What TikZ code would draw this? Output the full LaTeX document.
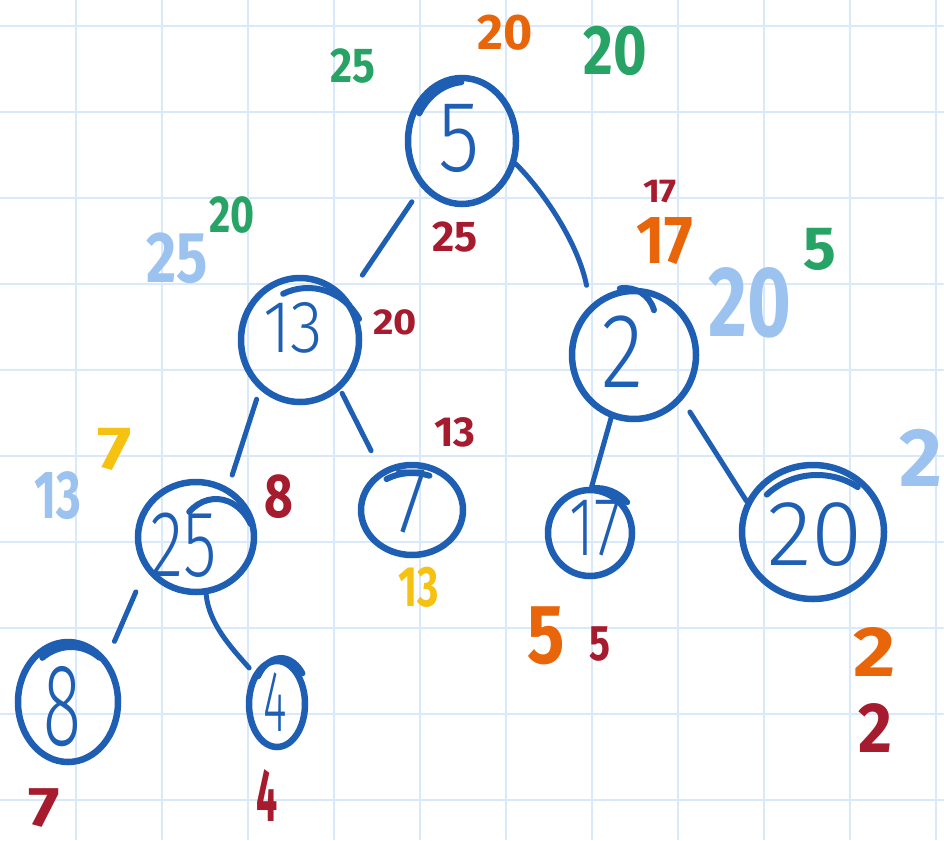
\documentclass[tikz,border=0pt]{standalone}
\usepackage{fontspec}
\usepackage{graphicx}
\setmainfont{Fira Sans}
\newfontfamily\thinfont{Fira Sans Light}
\usetikzlibrary{shapes.geometric}
\definecolor{pen}{HTML}{1E5FB4}
\definecolor{sky}{HTML}{9CC3F0}
\definecolor{mgreen}{HTML}{27A366}
\definecolor{morange}{HTML}{E8650A}
\definecolor{mred}{HTML}{A61C2E}
\definecolor{myellow}{HTML}{F5C211}
\definecolor{gridc}{HTML}{D8E9FB}
\newcommand\hw[3]{\scalebox{#1}[1]{\fontsize{#2pt}{#2pt}\selectfont #3}}
\begin{document}
\begin{tikzpicture}[x=1pt,y=-1pt,
  gridline/.style={draw=gridc,line width=1.6pt},
  ring/.style={ellipse,draw=pen,line width=6.5pt,inner sep=0pt},
  ringx/.style={draw=pen,line width=6pt,line cap=round},
  edge/.style={draw=pen,line width=5pt,line cap=round},
  lab/.style={inner sep=0pt,text=pen,font=\thinfont},
  ann/.style={inner sep=0pt,font=\bfseries}]
\fill[white] (0,0) rectangle (944,840);
\useasboundingbox (0,0) rectangle (944,840);
\foreach \x in {76,162,...,936} \draw[gridline] (\x,0) -- (\x,840);
\foreach \y in {26,112,...,800} \draw[gridline] (0,\y) -- (944,\y);

% rings
\node[ring,minimum width=108pt,minimum height=126pt] (c5) at (462,141) {};
\node[ring,minimum width=118pt,minimum height=124pt] (c13) at (300,340) {};
\node[ring,minimum width=124pt,minimum height=128pt] (c2) at (634,355) {};
\node[ring,minimum width=116pt,minimum height=110pt] (c25) at (196,537) {};
\node[ring,minimum width=102pt,minimum height=90pt] (c7) at (412,510) {};
\node[ring,minimum width=84pt,minimum height=86pt] (c17) at (590,533) {};
\node[ring,minimum width=142pt,minimum height=134pt] (c20) at (813,532) {};
\node[ring,minimum width=100pt,minimum height=120pt] (c8) at (68,702) {};
\node[ring,minimum width=56pt,minimum height=86pt] (c4) at (277,704) {};

% overlapping strokes where each ring was closed by hand
\draw[ringx] ([xshift=4pt,yshift=-4pt]c5.center) ++(210:54 and 63) arc[start angle=210,end angle=265,x radius=54,y radius=63];
\draw[ringx] ([xshift=8pt,yshift=-10pt]c13.center) ++(245:59 and 62) arc[start angle=245,end angle=330,x radius=59,y radius=62];
\draw[ringx] ([xshift=-9pt,yshift=37pt]c2.center) ++(260:30) arc[start angle=260,end angle=345,radius=30];
\draw[ringx] ([xshift=20pt,yshift=-12pt]c25.center) ++(228:40 and 50) arc[start angle=228,end angle=330,x radius=40,y radius=50];
\draw[ringx] ([xshift=0pt,yshift=-8pt]c7.center) ++(240:51 and 45) arc[start angle=240,end angle=290,x radius=51,y radius=45];
\draw[ringx] ([xshift=6pt,yshift=2pt]c17.center) ++(265:42 and 43) arc[start angle=265,end angle=318,x radius=42,y radius=43];
\draw[ringx] ([xshift=4pt,yshift=-10pt]c20.center) ++(225:71 and 67) arc[start angle=225,end angle=305,x radius=71,y radius=67];
\draw[ringx] ([xshift=3pt,yshift=-5pt]c8.center) ++(235:50 and 60) arc[start angle=235,end angle=305,x radius=50,y radius=60];
\draw[ringx] ([xshift=4pt,yshift=3pt]c4.center) ++(215:28 and 43) arc[start angle=215,end angle=320,x radius=28,y radius=43];

% values in the rings
\node[lab] (t5) at (459,138) {\hw{0.84}{101}{5}};
\node[lab] (t13) at (293,328) {\hw{0.9}{74}{13}};
\node[lab] (t2) at (623,352) {\hw{0.83}{106}{2}};
\node[lab] (t25) at (184,545) {\hw{0.73}{94}{25}};
\node[lab] (t7) at (411,502) {\hw{0.8}{94}{7}};
\node[lab] (t17) at (595,528) {\hw{0.73}{83}{17}};
\node[lab] (t20) at (815,535) {\hw{1}{93}{20}};
\node[lab] (t8) at (62,707) {\hw{0.6}{117}{8}};
\node[lab] (t4) at (275,702) {\hw{0.52}{87}{4}};

% edges
\draw[edge,shorten <=17pt,shorten >=27pt] (c5.229) -- (c13.42);
\draw[edge,shorten >=20pt] (c5.337) .. controls +(30,30) and +(-12,-60) .. (c2.131);
\draw[edge,shorten <=10pt,shorten >=13pt] (c13.231) -- (c25.57);
\draw[edge,shorten <=4pt,shorten >=22pt] (c13.309) -- (c7.128);
\draw[edge] (c2.250) -- (c17.88);
\draw[edge,shorten <=14pt] (c2.317) -- (c20.155);
\draw[edge,shorten <=24pt,shorten >=19pt] (c25.213) -- (c8.48);
\draw[edge,shorten >=7pt] (c25.280) .. controls +(3,30) and +(-22,-25) .. (c4.127);

% annotations
\node[ann,text=mgreen] (a1) at (353,66) {\hw{0.87}{49}{25}};
\node[ann,text=morange] (a2) at (505,33) {\hw{1}{50}{20}};
\node[ann,text=mgreen] (a3) at (615,51) {\hw{0.82}{70}{20}};
\node[ann,text=mgreen] (a4) at (232,215) {\hw{0.79}{52}{20}};
\node[ann,text=sky] (a5) at (177,258) {\hw{0.81}{72}{25}};
\node[ann,text=mred] (a6) at (455,237) {\hw{1}{43}{25}};
\node[ann,text=mred] (a7) at (395,322) {\hw{1.1}{36}{20}};
\node[ann,text=mred] (a8) at (660,192) {\hw{1.1}{33}{17}};
\node[ann,text=morange] (a9) at (665,241) {\hw{0.9}{68}{17}};
\node[ann,text=mgreen] (a10) at (820,249) {\hw{1}{61}{5}};
\node[ann,text=sky] (a11) at (750,303) {\hw{0.75}{100}{20}};
\node[ann,text=mred] (a12) at (455,432) {\hw{1}{42}{13}};
\node[ann,text=myellow] (a13) at (115,449) {\hw{1.2}{61}{7}};
\node[ann,text=sky] (a14) at (58,496) {\hw{0.7}{68}{13}};
\node[ann,text=mred] (a15) at (279,497) {\hw{0.8}{62}{8}};
\node[ann,text=myellow] (a16) at (419,587) {\hw{0.72}{57}{13}};
\node[ann,text=morange] (a17) at (546,636) {\hw{0.83}{84}{5}};
\node[ann,text=mred] (a18) at (600,644) {\hw{0.78}{50}{5}};
\node[ann,text=sky,anchor=west] (a19) at (899,458) {\hw{1}{83}{2}};
\node[ann,text=morange] (a20) at (875,652) {\hw{1.15}{71}{2}};
\node[ann,text=mred] (a21) at (875,728) {\hw{0.92}{71}{2}};
\node[ann,text=mred] (a22) at (44,808) {\hw{1.2}{56}{7}};
\node[ann,text=mred] (a23) at (267,796) {\hw{0.5}{75}{4}};
\end{tikzpicture}
\end{document}
